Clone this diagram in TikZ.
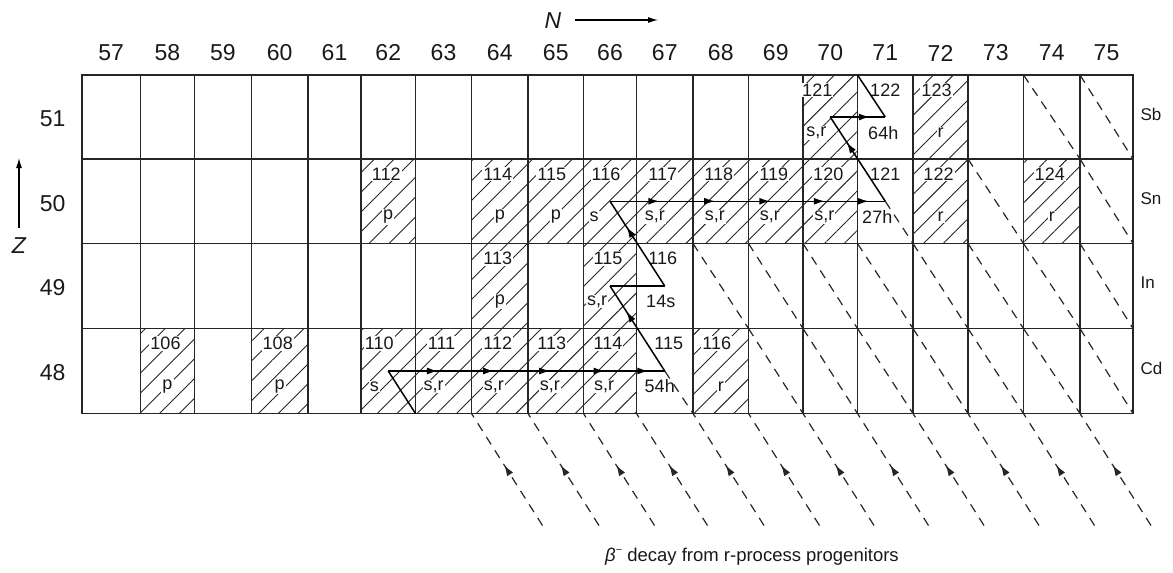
\documentclass[tikz,border=0pt]{standalone}
\usepackage{fontspec}
\setmainfont{Liberation Sans}
\usetikzlibrary{patterns.meta,arrows.meta,decorations.markings,calc}
\begin{document}
\begin{tikzpicture}[x=1pt,y=-1pt,
  gridline/.style={line width=1.2pt, draw=black!85},
  hatch/.style={pattern={Lines[angle=45,distance=14pt,line width=0.9pt]},pattern color=black!85},
  rline/.style={dash pattern=on 9pt off 7pt, line width=1.2pt, draw=black!85},
  sline/.style={line width=1.5pt, draw=black},
  midtip/.style={postaction={decorate},decoration={markings,mark=at position #1 with {\arrow[solid,fill=black]{Latex[length=11pt,width=7pt]}}}},
  big/.style={font=\fontsize{23}{23}\selectfont, text=black!90},
  num/.style={font=\fontsize{18}{18}\selectfont, text=black!90, inner sep=1pt},
  side/.style={font=\fontsize{17}{17}\selectfont, text=black!90, anchor=west},
]
\useasboundingbox (0,0) rectangle (1173,573);

% grid corner coordinates
\foreach \x [count=\i from 0] in {82,140.5,194.5,251.5,308,361,415.5,471.5,528,583.5,636.5,693,748.5,803,857.5,913,968,1023.5,1080,1133}{
  \foreach \y [count=\j from 0] in {75,159,243.5,328.5,413.5}{
    \coordinate (g\i-\j) at (\x,\y);
  }
}
% cell centres
\foreach \i in {0,...,18}{
  \foreach \j in {0,...,3}{
    \pgfmathtruncatemacro\ii{\i+1}
    \pgfmathtruncatemacro\jj{\j+1}
    \coordinate (c\i-\j) at ($(g\i-\j)!0.5!(g\ii-\jj)$);
  }
}

% hatched (stable) cells
\foreach \i/\j in {1/3,3/3,5/3,6/3,7/3,8/3,9/3,11/3, 7/2,9/2, 5/1,7/1,8/1,9/1,10/1,11/1,12/1,13/1,15/1,17/1, 13/0,15/0}{
  \pgfmathtruncatemacro\ii{\i+1}
  \pgfmathtruncatemacro\jj{\j+1}
  \fill[hatch] (g\i-\j) rectangle (g\ii-\jj);
}

% grid
\draw[gridline] (g0-0) rectangle (g19-4);
\foreach \j in {1,2,3}{\draw[gridline] (g0-\j) -- (g19-\j);}
\foreach \i in {1,...,18}{\draw[gridline] (g\i-0) -- (g\i-4);}

% column labels
\foreach \n [count=\i from 0] in {57,...,75}{
  \node[big] (col\n) at ($(c\i-0)+(0,-64)$) {\n};
}
% row labels
\node[big, anchor=east] (z51) at ($(g0-0)!0.5!(g0-1)+(-13,2)$) {51};
\node[big, anchor=east] (z50) at ($(g0-1)!0.5!(g0-2)+(-13,2)$) {50};
\node[big, anchor=east] (z49) at ($(g0-2)!0.5!(g0-3)+(-13,2)$) {49};
\node[big, anchor=east] (z48) at ($(g0-3)!0.5!(g0-4)+(-13,2)$) {48};
% element labels
\node[side] (sb) at ($(g19-0)!0.5!(g19-1)+(4,-3)$) {Sb};
\node[side] (sn) at ($(g19-1)!0.5!(g19-2)+(4,-3)$) {Sn};
\node[side] (in) at ($(g19-2)!0.5!(g19-3)+(4,-3)$) {In};
\node[side] (cd) at ($(g19-3)!0.5!(g19-4)+(4,-3)$) {Cd};

% N and Z axes
\node[big, font=\fontsize{23}{23}\selectfont\itshape] (Nlab) at (553,21) {N};
\coordinate (Na) at (575,20);
\coordinate (Nb) at (658,20);
\draw[line width=1.1pt, -{Latex[length=10pt,width=6pt]}] (Na) -- (Nb);
\node[big, font=\fontsize{23}{23}\selectfont\itshape] (Zlab) at (19,246) {Z};
\coordinate (Za) at (19,228);
\coordinate (Zb) at (19,158);
\draw[line width=1.1pt, -{Latex[length=10pt,width=6pt]}] (Za) -- (Zb);

% cell texts: i/j/mass/label/mass shift/label shift/hatched
\foreach \i/\j/\m/\l/\ms/\ls/\h in {
  1/3/106/p/-2/0/1, 3/3/108/p/-2/0/1, 5/3/110/s/-9/-14/1, 6/3/111/{s,r}/-2/-10/1,
  7/3/112/{s,r}/-2/-6/1, 8/3/113/{s,r}/-4/-6/1, 9/3/114/{s,r}/-2/-6/1, 10/3/115/54h/4/-5/0, 11/3/116/r/-4/0/1,
  7/2/113/p/-2/0/1, 9/2/115/{s,r}/-2/-13/1, 10/2/116/14s/-2/-4/0,
  5/1/112/p/-2/0/1, 7/1/114/p/-2/0/1, 8/1/115/p/-4/0/1, 9/1/116/s/-4/-16/1,
  10/1/117/{s,r}/-2/-10/1, 11/1/118/{s,r}/-2/-6/1, 12/1/119/{s,r}/-2/-6/1, 13/1/120/{s,r}/-2/-6/1,
  14/1/121/27h/0/-8/0, 15/1/122/r/-2/0/1, 17/1/124/r/-2/0/1,
  13/0/121/{s,r}/-13/-14/1, 14/0/122/64h/0/-2/0, 15/0/123/r/-4/0/1}{
  \pgfmathtruncatemacro\ii{\i+1}
  \ifnum\h=1
    \node[num, fill=white] (m\i-\j) at ($(g\i-\j)!0.5!(g\ii-\j)+(\ms,15)$) {\m};
    \node[num, fill=white] (l\i-\j) at ($(g\i-\j)!0.5!(g\ii-\j)+(\ls,58)$) {\l};
  \else
    \node[num] (m\i-\j) at ($(g\i-\j)!0.5!(g\ii-\j)+(\ms,15)$) {\m};
    \node[num] (l\i-\j) at ($(g\i-\j)!0.5!(g\ii-\j)+(\ls,58)$) {\l};
  \fi
}

% r-process isobar lines inside the chart
\foreach \i/\j in {12/3,13/3,14/3,15/3,16/3,17/3,18/3, 11/2,12/2,13/2,14/2,15/2,16/2,17/2,18/2, 16/1,18/1, 17/0,18/0}{
  \pgfmathtruncatemacro\ii{\i+1}
  \pgfmathtruncatemacro\jj{\j+1}
  \draw[rline] (g\i-\j) -- (g\ii-\jj);
}
\draw[rline] (c10-3) -- (g11-4);
\draw[rline] (c14-1) -- (g15-2);

% r-process progenitor decays below the chart
\foreach \i in {7,...,18}{
  \coordinate (e\i) at ($(g\i-4)+(71,112)$);
  \draw[rline, midtip=0.54] (e\i) -- (g\i-4);
}

% s-process path
\draw[sline] (c5-3) -- (g6-4);
\draw[sline, midtip=0.9] (c5-3) -- (c6-3);
\draw[sline, midtip=0.9] (c6-3) -- (c7-3);
\draw[sline, midtip=0.9] (c7-3) -- (c8-3);
\draw[sline, midtip=0.9] (c8-3) -- (c9-3);
\draw[sline, midtip=0.7] (c9-3) -- (c10-3);
\draw[sline, midtip=0.7] (c10-3) -- (c9-2);
\draw[sline] (c9-2) -- (c10-2);
\draw[sline, midtip=0.7] (c10-2) -- (c9-1);
\draw[sline, midtip=0.9] (c9-1) -- (c10-1);
\draw[sline, midtip=0.9] (c10-1) -- (c11-1);
\draw[sline, midtip=0.9] (c11-1) -- (c12-1);
\draw[sline, midtip=0.9] (c12-1) -- (c13-1);
\draw[sline, midtip=0.7] (c13-1) -- (c14-1);
\draw[sline, midtip=0.7] (c14-1) -- (c13-0);
\draw[sline, midtip=0.72] (c13-0) -- (c14-0);
\draw[sline] (c14-0) -- (g14-0);

% caption
\node[font=\fontsize{18.5}{18.5}\selectfont, text=black!90] (cap) at (752,557)
  {{\itshape β}\raisebox{0.45em}{\fontsize{11}{11}\selectfont −} decay from r-process progenitors};
\end{tikzpicture}
\end{document}
